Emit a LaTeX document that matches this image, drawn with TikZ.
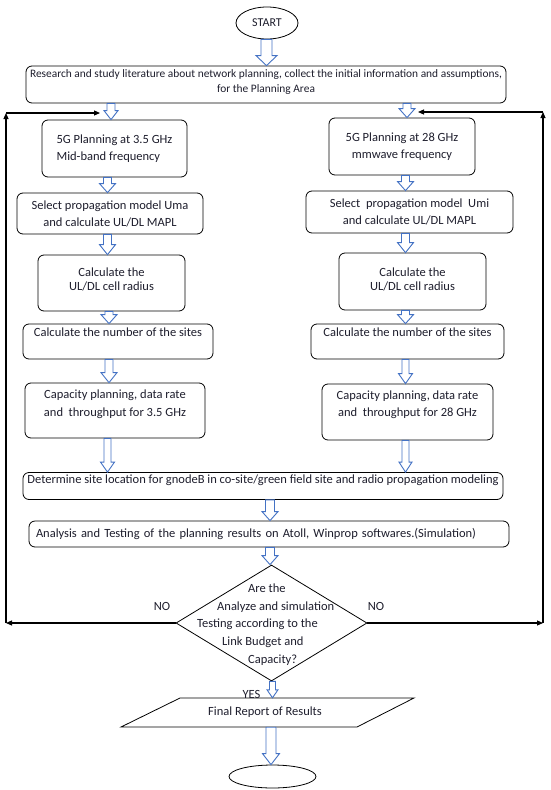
\documentclass[tikz,border=0pt]{standalone}
\usepackage{fontspec}
\setmainfont{Carlito}
\usetikzlibrary{shapes.geometric,arrows.meta,calc}
\definecolor{arrblue}{RGB}{68,114,196}
\definecolor{txt}{RGB}{30,30,45}
\newcommand\blockarr[5]{%
  \draw[hollow] let \p1=(#1), \p2=(#2) in
    (\x1-#3pt,\y1) -- (\x1-#3pt,\y2+#5pt) -- (\x1-#4pt,\y2+#5pt) -- (\x1,\y2)
    -- (\x1+#4pt,\y2+#5pt) -- (\x1+#3pt,\y2+#5pt) -- (\x1+#3pt,\y1) -- cycle;}
\begin{document}
\begin{tikzpicture}[x=1pt,y=-1pt,
  box/.style={draw=black, rounded corners=6pt, line width=0.8pt, align=center, inner sep=2pt, text=txt, font=\fontsize{12.5}{17}\selectfont},
  lbl/.style={inner sep=0pt, text=txt, font=\fontsize{12.5}{17}\selectfont},
  hollow/.style={draw=arrblue, fill=white, line width=0.9pt, line join=miter},
  fb/.style={draw=black, line width=1.1pt, -{Triangle[length=6pt,width=5pt]}}]
\fill[white] (0,0) rectangle (550,790);
\useasboundingbox (0,0) rectangle (550,790);
% terminals
\node[ellipse, draw, line width=0.8pt, minimum width=62pt, minimum height=32pt, inner sep=0pt, text=txt, font=\fontsize{12}{17}\selectfont] (start) at (267,23) {START};
\node[ellipse, draw, line width=0.8pt, minimum width=87pt, minimum height=23pt, inner sep=0pt] (endE) at (272.5,776.5) {};
% top box
\node[box, minimum width=480pt, minimum height=37pt, inner xsep=1pt, font=\fontsize{11.4}{15}\selectfont] (R) at (266,84.5) {Research and study literature about network planning, collect the initial information and assumptions,\\for the Planning Area\\[-9pt]\mbox{}};
% left column
\node[box, minimum width=145pt, minimum height=57pt, align=left] (b1L) at (114.5,148.5) {5G Planning at 3.5 GHz\\Mid-band frequency};
\node[box, minimum width=186pt, minimum height=41pt] (b2L) at (110,213.5) {Select propagation model Uma\\and calculate UL/DL MAPL};
\node[box, minimum width=147pt, minimum height=56pt, font=\fontsize{12.5}{14}\selectfont] (b3L) at (111.5,283) {Calculate the\\UL/DL cell radius\\[-6pt]\mbox{}};
\node[box, minimum width=190pt, minimum height=35pt, text height=8.5pt, text depth=18.5pt] (b4L) at (118,341.5) {Calculate the number of the sites};
\node[box, minimum width=180pt, minimum height=55pt, font=\fontsize{12.5}{18}\selectfont] (b5L) at (115,410.5) {Capacity planning, data rate\\and~ throughput for 3.5 GHz\\[-3pt]\mbox{}};
% right column
\node[box, minimum width=146pt, minimum height=57pt] (b1R) at (402,146.5) {5G Planning at 28 GHz\\mmwave frequency};
\node[box, minimum width=207pt, minimum height=42pt] (b2R) at (409.5,212) {Select~ propagation model~ Umi\\and calculate UL/DL MAPL};
\node[box, minimum width=147pt, minimum height=57pt, font=\fontsize{12.5}{14}\selectfont] (b3R) at (412.5,281.5) {Calculate the\\UL/DL cell radius\\[-9pt]\mbox{}};
\node[box, minimum width=193pt, minimum height=35pt, text height=8.5pt, text depth=18.5pt] (b4R) at (407.5,341.5) {Calculate the number of the sites};
\node[box, minimum width=171pt, minimum height=56pt] (b5R) at (407.5,412) {Capacity planning, data rate\\and~ throughput for 28 GHz\\[0pt]\mbox{}};
% merged boxes
\node[box, minimum width=480pt, minimum height=26pt, text height=8.5pt, text depth=14.5pt] (Det) at (263,486) {Determine site location for gnodeB in co-site/green field site and radio propagation modeling};
\node[box, minimum width=480pt, minimum height=26pt, align=left, text width=466pt, inner xsep=7pt] (An) at (269,534) {Analysis and Testing of the planning results on Atoll, Winprop softwares.(Simulation)};
% decision
\node[diamond, draw, line width=0.8pt, minimum width=191pt, minimum height=116pt, inner sep=0pt] (dia) at (271.5,623) {};
\node[lbl, anchor=base west] (q1) at (248,592.5) {Are the};
\node[lbl, anchor=base west] (q2) at (217,610.5) {Analyze and simulation};
\node[lbl, anchor=base west] (q3) at (197,627.5) {Testing according to the};
\node[lbl, anchor=base west] (q4) at (222,645.5) {Link Budget and};
\node[lbl, anchor=base west] (q5) at (248,663.5) {Capacity?};
\node[lbl] (noL) at (162,606) {NO};
\node[lbl] (noR) at (376,606) {NO};
% report
\node[lbl, minimum height=29pt] (rep) at (265,712.5) {Final Report of Results};
\draw[line width=0.8pt] ($(rep.center)+(-85,-14.5)$) -- ($(rep.center)+(149,-14.5)$) -- ($(rep.center)+(92,14.5)$) -- ($(rep.center)+(-144,14.5)$) -- cycle;
\node[lbl] (yes) at (251.5,694) {YES};
% column coordinates
\coordinate (xs) at (266.5,0);
\coordinate (xl1) at (111,0);
\coordinate (xr1) at (407,0);
\coordinate (xl) at (107.5,0);
\coordinate (xl2) at (109,0);
\coordinate (xr) at (405.5,0);
\coordinate (xc) at (270,0);
\coordinate (xd) at (272.5,0);
\coordinate (xe) at (271,0);
% hollow arrows
\blockarr{start.south -| xs}{R.north}{5.5}{10.5}{10}
\blockarr{R.south -| xl1}{b1L.north}{4}{7}{9}
\blockarr{R.south -| xr1}{b1R.north}{4}{8}{9}
\blockarr{b1L.south -| xl}{b2L.north}{4}{8}{9}
\blockarr{b2L.south -| xl}{b3L.north}{4}{8}{10}
\blockarr{b3L.south -| xl2}{b4L.north}{4}{8}{9}
\blockarr{b4L.south -| xl2}{b5L.north}{4}{8}{10}
\blockarr{b5L.south -| xl}{Det.north}{3.5}{7}{10}
\blockarr{b1R.south -| xr}{b2R.north}{4}{8}{9}
\blockarr{b2R.south -| xr}{b3R.north}{4}{8}{10}
\blockarr{b3R.south -| xr}{b4R.north}{4}{8}{9}
\blockarr{b4R.south -| xr}{b5R.north}{3.5}{7}{10}
\blockarr{b5R.south -| xr}{Det.north}{3.5}{6.5}{10}
\blockarr{Det.south -| xc}{An.north}{4.5}{8}{9}
\blockarr{An.south -| xc}{dia.north}{4.5}{8}{9}
\blockarr{dia.south -| xd}{rep.north}{3}{5.5}{8}
\blockarr{rep.south -| xe}{endE.north}{5}{8.5}{11}
% feedback loops
\coordinate (lb) at (6,623);
\coordinate (lt) at (6,113);
\coordinate (lh) at (100,113);
\coordinate (rb) at (543,623);
\coordinate (rt) at (543,112);
\coordinate (rh) at (418,112);
\draw[fb] (dia.west) -- (lb);
\draw[fb] (lb) -- (lt);
\draw[fb] (lt) -- (lh);
\draw[fb] (dia.east) -- (rb);
\draw[fb] (rb) -- (rt);
\draw[fb] (rt) -- (rh);
\end{tikzpicture}
\end{document}
